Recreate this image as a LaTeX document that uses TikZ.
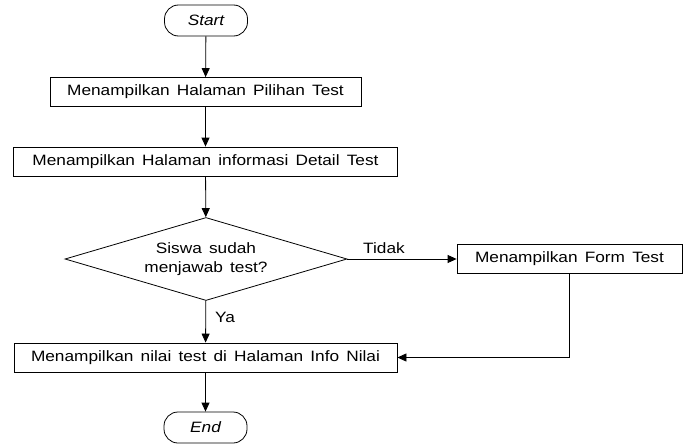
\documentclass[tikz,border=0pt]{standalone}
\usepackage{fontspec}
\setmainfont{Liberation Sans}[FakeStretch=1.15,WordSpace=1.5]
\usetikzlibrary{shapes.geometric,arrows.meta}
\begin{document}
\begin{tikzpicture}[x=1pt,y=-1pt,
  every node/.style={font=\fontsize{15}{19}\selectfont, inner sep=0pt},
  procbox/.style={draw, line width=0.8pt, rectangle, minimum height=29pt},
  term/.style={draw, line width=0.8pt, rectangle, rounded corners=14pt, minimum width=83pt, minimum height=31pt, font=\fontsize{15}{19}\selectfont\itshape},
  decbox/.style={draw, line width=0.8pt, diamond, minimum width=282pt, minimum height=83pt, shape aspect=3.4, align=center},
  flow/.style={line width=0.8pt, -{Triangle[length=9pt,width=8pt]}},
  lbl/.style={font=\fontsize{15}{19}\selectfont}
]
\useasboundingbox (0,0) rectangle (693,444);
\node[term] (start) at (206,20.5) {Start};
\node[procbox, minimum width=311pt] (b1) at (205.5,92) {Menampilkan Halaman Pilihan Test};
\node[procbox, minimum width=384pt] (b2) at (205.5,161.5) {Menampilkan Halaman informasi Detail Test};
\node[decbox] (dec) at (206,259) {Siswa sudah\\menjawab test?};
\node[procbox, minimum width=225pt] (b3) at (569.5,258.5) {Menampilkan Form Test};
\node[procbox, minimum width=383pt] (b4) at (205.5,357.5) {Menampilkan nilai test di Halaman Info Nilai};
\node[term] (end) at (205.5,427.5) {End};
\node[lbl] (tidak) at (384,248) {Tidak};
\node[lbl] (ya) at (225,317) {Ya};
\draw[flow] (start) -- (b1);
\draw[flow] (b1) -- (b2);
\draw[flow] (b2) -- (dec);
\draw[flow] (dec.east) -- (dec.east -| b3.west);
\draw[flow] (dec) -- (b4);
\draw[flow] (b3.south) |- (b4.east);
\draw[flow] (b4) -- (end);
\end{tikzpicture}
\end{document}
